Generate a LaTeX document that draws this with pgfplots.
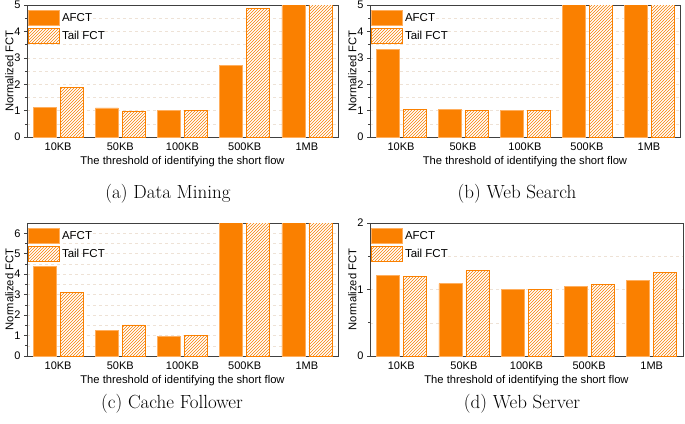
\documentclass[border=0pt]{standalone}
\usepackage{pgfplots}
\pgfplotsset{compat=1.18}
\usepackage{fontspec}
\newfontfamily\arial{Liberation Sans}
\usetikzlibrary{patterns}
\definecolor{bor}{RGB}{250,128,0}
\definecolor{borlight}{RGB}{255,175,95}
\definecolor{gridc}{RGB}{238,226,214}

\pgfplotsset{
  fctaxis/.style={
    scale only axis,
    ybar,
    bar width=23pt,
    xmin=-0.5, xmax=4.5,
    xtick={0,1,2,3,4},
    xticklabels={10KB,50KB,100KB,500KB,1MB},
    x tick style={draw=none},
    ymin=0,
    tick align=outside,
    ytick pos=left,
    minor y tick num=1,
    ymajorgrids, yminorgrids,
    major grid style={gridc, dashed, line width=0.5pt},
    minor grid style={gridc, dashed, line width=0.5pt},
    axis line style={black!75, line width=0.8pt},
    tick style={black!75, line width=0.6pt},
    major tick length=3pt, minor tick length=2pt,
    /pgf/number format/assume math mode=true,
    tick label style={font=\arial\fontsize{11}{13}\selectfont},
    xticklabel style={yshift=1pt},
    xlabel={The threshold of identifying the short flow},
    ylabel={Normalized FCT},
    xlabel style={font=\arial\fontsize{11.2}{13}\selectfont, yshift=1pt},
    ylabel style={font=\arial\fontsize{11.2}{13}\selectfont, yshift=-6pt},
    legend style={at={(0,1)}, anchor=north west, draw=none, fill=none,
      inner xsep=1pt, inner ysep=5pt,
      font=\arial\fontsize{11.5}{13}\selectfont, row sep=2pt,
      /tikz/every even column/.append style={column sep=2pt}},
    legend image code/.code={\draw[##1,/tikz/.cd] (0pt,-7.5pt) rectangle (31pt,7.5pt);},
    legend cell align=left,
  },
  afct/.style={fill=bor, draw=borlight, line width=0.8pt, bar shift=-13.5pt},
  tail/.style={draw=bor, line width=0.8pt, preaction={fill=white}, pattern=north east lines, pattern color=bor, bar shift=13.5pt},
}

\begin{document}
\begin{tikzpicture}
\useasboundingbox (0pt,0pt) rectangle (685pt,-423pt);

% (a) Data Mining
\begin{axis}[fctaxis, at={(27pt,-137pt)}, anchor=south west, width=311pt, height=132pt, ymax=5, ytick={0,1,2,3,4,5}]
\addplot[afct] coordinates {(0,1.13) (1,1.10) (2,1.01) (3,2.72) (4,6)};
\addplot[tail] coordinates {(0,1.86) (1,0.96) (2,1.01) (3,4.86) (4,6)};
\legend{AFCT,Tail FCT}
\end{axis}

% (b) Web Search
\begin{axis}[fctaxis, at={(370pt,-137pt)}, anchor=south west, width=310pt, height=132pt, ymax=5, ytick={0,1,2,3,4,5}]
\addplot[afct] coordinates {(0,3.32) (1,1.03) (2,1.00) (3,6) (4,6)};
\addplot[tail] coordinates {(0,1.06) (1,1.01) (2,1.01) (3,6) (4,6)};
\legend{AFCT,Tail FCT}
\end{axis}

% (c) Cache Follower
\begin{axis}[fctaxis, at={(27pt,-356pt)}, anchor=south west, width=311pt, height=133pt, ymax=6.5, ytick={0,1,2,3,4,5,6}]
\addplot[afct] coordinates {(0,4.36) (1,1.26) (2,0.97) (3,8) (4,8)};
\addplot[tail] coordinates {(0,3.11) (1,1.52) (2,1.00) (3,8) (4,8)};
\legend{AFCT,Tail FCT}
\end{axis}

% (d) Web Server
\begin{axis}[fctaxis, at={(370pt,-356pt)}, anchor=south west, width=313pt, height=133pt, ymax=2, ytick={0,1,2}]
\addplot[afct] coordinates {(0,1.21) (1,1.09) (2,1.00) (3,1.05) (4,1.14)};
\addplot[tail] coordinates {(0,1.19) (1,1.28) (2,1.00) (3,1.07) (4,1.26)};
\legend{AFCT,Tail FCT}
\end{axis}

\node[font=\fontsize{19}{22}\selectfont] at (168pt,-194pt) {(a) Data Mining};
\node[font=\fontsize{19}{22}\selectfont] at (517pt,-194pt) {(b) Web Search};
\node[font=\fontsize{19}{22}\selectfont] at (172pt,-404pt) {(c) Cache Follower};
\node[font=\fontsize{19}{22}\selectfont] at (522pt,-404pt) {(d) Web Server};
\end{tikzpicture}
\end{document}
